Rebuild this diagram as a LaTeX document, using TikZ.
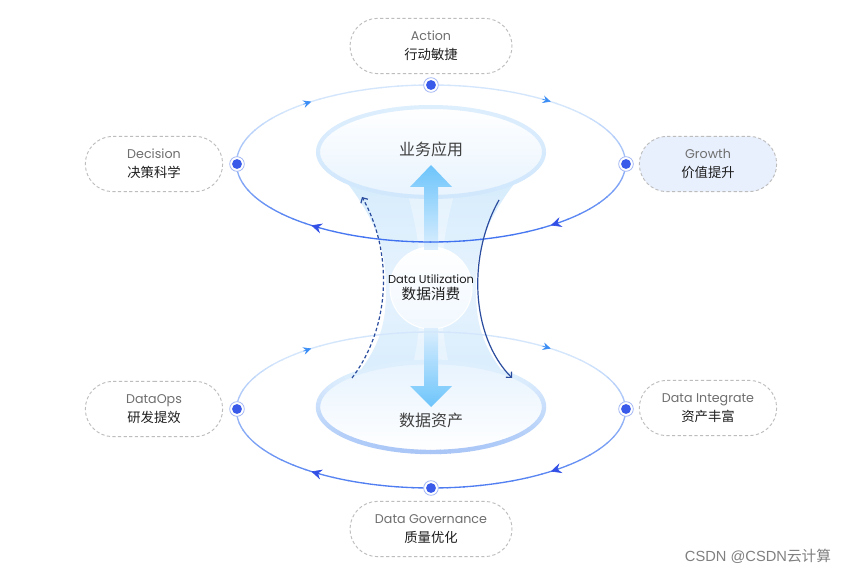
\documentclass[tikz,border=0pt]{standalone}
\usepackage{fontspec}
\setmainfont{Poppins}
\newfontfamily\cjk{Noto Sans CJK SC}
\newfontfamily\wm{Liberation Sans}
\usetikzlibrary{arrows.meta,shapes.misc,calc}
\definecolor{pillgray}{HTML}{BDBDBD}
\definecolor{engray}{HTML}{6E6E6E}
\definecolor{zhtxt}{HTML}{1E1E1E}
\definecolor{dotblue}{HTML}{3A5AEA}
\definecolor{dotring}{HTML}{A4B8F5}
\definecolor{ringlight}{HTML}{D3E6FC}
\definecolor{ringdark}{HTML}{3E70F0}
\definecolor{arrlight}{HTML}{3A8DF5}
\definecolor{arrdark}{HTML}{3350E6}
\definecolor{funA}{HTML}{D6ECFC}
\definecolor{funB}{HTML}{E7F3FE}
\definecolor{bigarrA}{HTML}{66C2FB}
\definecolor{bigarrB}{HTML}{C4E4FD}
\definecolor{curvecol}{HTML}{2A4C9E}
\definecolor{growthfill}{HTML}{E8EFFD}
\definecolor{innerA}{HTML}{DDEEFD}
\definecolor{innerB}{HTML}{CDE5FC}
\definecolor{innerC}{HTML}{A9C6F7}
% gradient ellipse: cx cy rx ry colTop colBottom width base amp
\newcommand\gradellipse[9]{%
  \foreach \a in {0,5,...,355}{%
    \pgfmathsetmacro\p{max(0,min(100,#8+#9*sin(\a+2.5)))}%
    \draw[line width=#7, color=#6!\p!#5]
      plot[domain=\a:\a+5.4, samples=4, variable=\t] ({#1+#3*cos(\t)},{#2+#4*sin(\t)});
  }%
}
\newcommand\ellarrow[7]{% cx cy rx ry angle color size
  \draw[color=#6, line width=0.5pt, -{Stealth[length=#7, width=#7*0.95, inset=#7*0.35]}]
    plot[domain=#5-3:#5, samples=3, variable=\t] ({#1+#3*cos(\t)},{#2+#4*sin(\t)});
}
\begin{document}
\begin{tikzpicture}[x=0.75pt,y=-0.75pt,
  pill/.style={rounded rectangle, draw=pillgray, line width=0.7pt, dash pattern=on 2.4pt off 1.8pt,
    minimum height=41.5pt, inner sep=0pt, align=center},
  dot/.style={circle, draw=dotring, line width=0.6pt, fill=white, minimum size=11pt, inner sep=0pt,
    path picture={\fill[dotblue] (path picture bounding box.center) circle (3.7pt);}},
]
\useasboundingbox (0,0) rectangle (863,577);
\fill[white] (0,0) rectangle (863,577);

% funnel
\shade[top color=funA, bottom color=funA, middle color=funB]
  (345,180) .. controls (380,225) and (386,255) .. (386,290)
  .. controls (386,325) and (380,352) .. (342,392)
  -- (520,392) .. controls (482,352) and (476,325) .. (476,290)
  .. controls (476,255) and (482,225) .. (517,180) -- cycle;
% soft central column glow
\fill[white, opacity=0.35] (408,195) .. controls (420,240) and (420,260) .. (420,290)
  .. controls (420,320) and (420,340) .. (408,385) -- (454,385)
  .. controls (442,340) and (442,320) .. (442,290) .. controls (442,260) and (442,240) .. (454,195) -- cycle;

% inner ellipses
\shade[top color=white, bottom color=innerA!70] (431,152) ellipse [x radius=113, y radius=45];
\gradellipse{431}{152}{113}{45}{innerA}{innerB}{3pt}{40}{40}
\shade[top color=funB, bottom color=white] (431,407) ellipse [x radius=113, y radius=45];
\gradellipse{431}{407}{113}{45}{innerA}{innerC}{3.3pt}{40}{60}

% central circle
\shade[top color=white, bottom color=funB!60!white] (431,288) circle [radius=41];
\draw[white, line width=0.8pt] (431,288) circle [radius=41];
\node[circle, minimum size=61.5pt, inner sep=0pt] (core) at (431,288) {};

% big arrows
\shade[top color=bigarrA, bottom color=bigarrB!60!white, opacity=0.95]
  (431,165) -- (452,187) -- (438,187) -- (438,250) -- (424,250) -- (424,187) -- (410,187) -- cycle;
\shade[top color=bigarrB!60!white, bottom color=bigarrA, opacity=0.95]
  (424,328) -- (438,328) -- (438,386) -- (452,386) -- (431,407) -- (410,386) -- (424,386) -- cycle;

% outer ellipses
\gradellipse{431}{163.5}{194.5}{78.5}{ringlight}{ringdark}{1pt}{40}{60}
\gradellipse{431}{410}{194.5}{78}{ringlight}{ringdark}{1pt}{35}{55}
\foreach \ang in {232,308}{\ellarrow{431}{163.5}{194.5}{78.5}{\ang}{arrlight}{6pt}}
\foreach \ang in {52,128}{\ellarrow{431}{163.5}{194.5}{78.5}{\ang}{arrdark}{8pt}}
\foreach \ang in {232,308}{\ellarrow{431}{410}{194.5}{78}{\ang}{arrlight}{6pt}}
\foreach \ang in {52,128}{\ellarrow{431}{410}{194.5}{78}{\ang}{arrdark}{8pt}}

% curved arrows
\coordinate (dashS) at (352,378);
\coordinate (dashE) at (362,197);
\coordinate (solS) at (499,200);
\coordinate (solE) at (512,378);
\draw[curvecol, line width=0.9pt, dash pattern=on 2.6pt off 1.8pt, -{Straight Barb[length=3pt,width=6pt]}]
  (dashS) .. controls (392,325) and (392,250) .. (dashE);
\draw[curvecol, line width=0.9pt, -{Straight Barb[length=3pt,width=6pt]}]
  (solS) .. controls (468,255) and (470,335) .. (solE);

% center labels
\node[font=\cjk\fontsize{12}{14}\selectfont, text=zhtxt!85] (app) at (431,149) {业务应用};
\node[font=\cjk\fontsize{12}{14}\selectfont, text=zhtxt!85] (asset) at (431,420) {数据资产};
\node[align=center, text=zhtxt] (util) at (431,288)
  {{\fontsize{8.6}{10}\selectfont Data Utilization}\\[0pt]{\cjk\fontsize{11}{13}\selectfont 数据消费}};

% dots
\node[dot] (dA) at (431,85) {};
\node[dot] (dDec) at (237,164) {};
\node[dot] (dGro) at (626,164) {};
\node[dot] (dOps) at (237,409) {};
\node[dot] (dInt) at (626,409) {};
\node[dot] (dGov) at (431,488) {};

% pills
\newcommand\pilltext[2]{{\color{engray}\fontsize{9.5}{11}\selectfont #1}\\[2pt]{\cjk\color{zhtxt}\fontsize{10}{11}\selectfont #2}}
\node[pill, minimum width=121.5pt] (action) at (431,46) {\pilltext{Action}{行动敏捷}};
\node[pill, minimum width=103pt, fill=growthfill] (growth) at (708,164) {\pilltext{Growth}{价值提升}};
\node[pill, minimum width=103pt] (decision) at (154,164) {\pilltext{Decision}{决策科学}};
\node[pill, minimum width=103pt] (dataops) at (154,409) {\pilltext{DataOps}{研发提效}};
\node[pill, minimum width=103pt] (integ) at (708,408) {\pilltext{Data Integrate}{资产丰富}};
\node[pill, minimum width=121.5pt] (gov) at (431,529) {\pilltext{Data Governance}{质量优化}};

% watermark
\node[text=black!50, font=\wm\fontsize{11}{13}\selectfont] (wmk) at (758,556) {CSDN @CSDN{\cjk 云计算}};
\end{tikzpicture}
\end{document}
